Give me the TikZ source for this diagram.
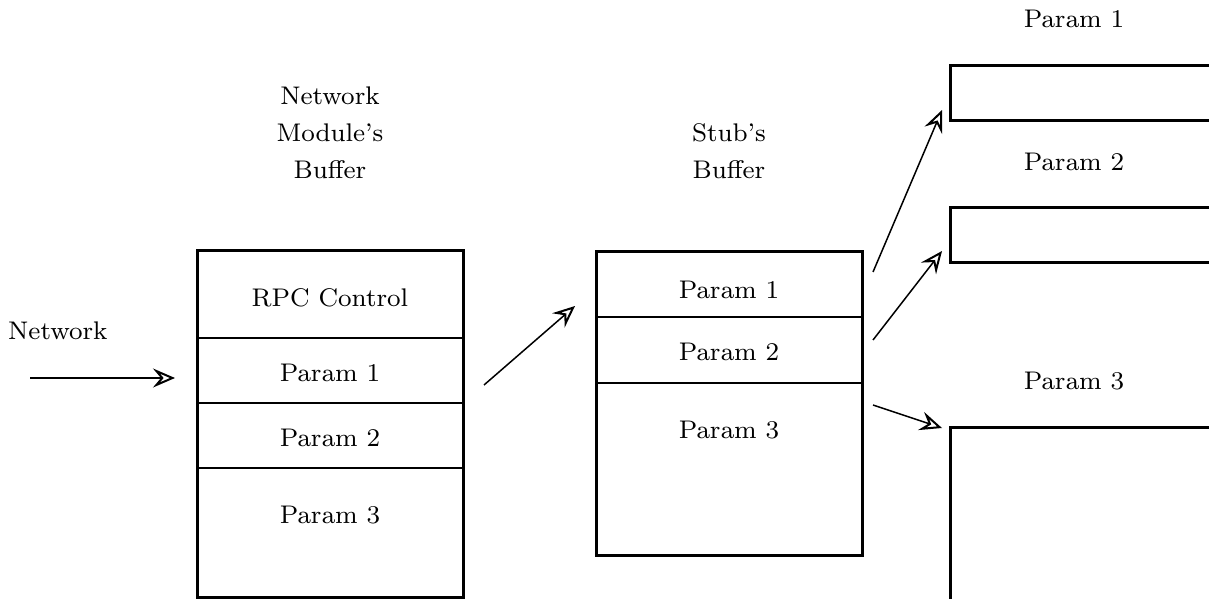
\documentclass[tikz,border=0pt]{standalone}
\usetikzlibrary{arrows.meta}
\font\diagfont=cmr8 at 25.5pt
\begin{document}
\begin{tikzpicture}[x=1pt,y=-1pt,
  every node/.style={font=\diagfont},
  frame/.style={line width=3pt},
  divider/.style={line width=1.6pt},
  flow/.style={line width=1.5pt,-{Stealth[open,length=22pt,width=19pt,inset=8pt,line width=2pt]}},
  lbl/.style={inner sep=0pt,anchor=base}]
\useasboundingbox (0,0) rectangle (1209,599);
\clip (0,0) rectangle (1209,599);

% network module's buffer
\draw[frame] (197,597) rectangle (463,250);
\draw[divider] (197,338) -- (463,338);
\draw[divider] (197,403) -- (463,403);
\draw[divider] (197,468) -- (463,468);
\node[lbl] (nmb1) at (330,105) {Network};
\node[lbl] (nmb2) at (330,142) {Module's};
\node[lbl] (nmb3) at (330,178) {Buffer};
\node[lbl] (rpc) at (330,306) {RPC Control};
\node[lbl] (np1) at (330,381) {Param 1};
\node[lbl] (np2) at (330,446) {Param 2};
\node[lbl] (np3) at (330,523) {Param 3};

% stub's buffer
\draw[frame] (596,251) rectangle (862,555);
\draw[divider] (596,317) -- (862,317);
\draw[divider] (596,383) -- (862,383);
\node[lbl] (sb1) at (729,141) {Stub's};
\node[lbl] (sb2) at (729,178) {Buffer};
\node[lbl] (sp1) at (729,298) {Param 1};
\node[lbl] (sp2) at (729,360) {Param 2};
\node[lbl] (sp3) at (729,438) {Param 3};

% separate parameter buffers
\draw[frame] (1215,66) -- (950,66) -- (950,121) -- (1215,121);
\draw[frame] (1215,207) -- (950,207) -- (950,262) -- (1215,262);
\draw[frame] (1215,427) -- (950,427) -- (950,610);
\node[lbl] (rp1) at (1074,28) {Param 1};
\node[lbl] (rp2) at (1074,170) {Param 2};
\node[lbl] (rp3) at (1074,389) {Param 3};

\node[lbl,anchor=base west] (net) at (8,339) {Network};

% arrow end points
\coordinate (netA) at (30,378);
\coordinate (netB) at (175,378);
\coordinate (m1) at (484,385);
\coordinate (m2) at (575,306);
\coordinate (a1) at (873,272);
\coordinate (b1) at (942,110);
\coordinate (a2) at (873,340);
\coordinate (b2) at (942,251);
\coordinate (a3) at (873,405);
\coordinate (b3) at (942,428);

\draw[flow] (netA) -- (netB);
\draw[flow] (m1) -- (m2);
\draw[flow] (a1) -- (b1);
\draw[flow] (a2) -- (b2);
\draw[flow] (a3) -- (b3);
\end{tikzpicture}
\end{document}
